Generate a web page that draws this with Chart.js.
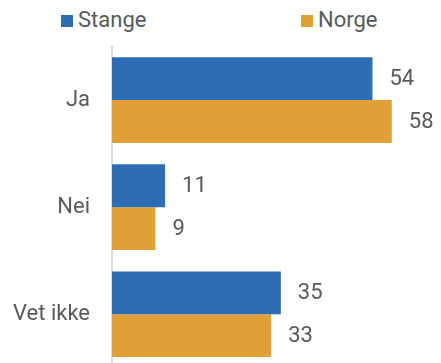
<!DOCTYPE html>
<html>
<head>
<meta charset="utf-8">
<script src="https://cdn.jsdelivr.net/npm/chart.js@4"></script>
<style>
  html, body { margin: 0; padding: 0; background: #fff; overflow: hidden; }
  #wrap { position: relative; width: 441px; height: 363px; overflow: hidden; }
  #c { position: absolute; left: 0; top: 0; }
  .leg { position: absolute; top: 7px; font-family: Roboto, sans-serif; font-size: 22px; color: #595959; line-height: 26px; }
  .leg i { display: inline-block; width: 12px; height: 12px; margin-right: 5px; vertical-align: 0px; }
</style>
</head>
<body>
<div id="wrap">
  <div class="leg" style="left:61px"><i style="background:#2c6db4"></i>Stange</div>
  <div class="leg" style="left:301px"><i style="background:#e09f37"></i>Norge</div>
  <canvas id="c" width="441" height="403"></canvas>
</div>
<script>
var categories = ["Ja", "Nei", "Vet ikke"];
var stange = [54, 11, 35];
var norge = [58, 9, 33];

// value labels to the right of each bar
var barLabels = {
    id: "barLabels",
    afterDatasetsDraw: function(chart) {
        var ctx = chart.ctx;
        ctx.save();
        ctx.font = "22px Roboto, sans-serif";
        ctx.fillStyle = "#595959";
        ctx.textAlign = "left";
        ctx.textBaseline = "middle";
        chart.data.datasets.forEach(function(ds, i) {
            chart.getDatasetMeta(i).data.forEach(function(bar, j) {
                ctx.fillText(ds.data[j], bar.x + 17, bar.y + 1);
            });
        });
        ctx.restore();
    }
};

new Chart(document.getElementById("c"), {
    type: 'bar',
    data: {
        labels: categories,
        datasets: [
            { label: "Stange", data: stange, backgroundColor: "#2c6db4" },
            { label: "Norge", data: norge, backgroundColor: "#e09f37" }
        ]
    },
    options: {
        indexAxis: 'y',
        responsive: false,
        animation: false,
        layout: { padding: { top: 46.5, right: 1, bottom: 0, left: 0 } },
        datasets: { bar: { categoryPercentage: 0.8, barPercentage: 1.0 } },
        plugins: { legend: { display: false }, tooltip: { enabled: false } },
        scales: {
            x: {
                min: 0, max: 68,
                display: false
            },
            y: {
                afterFit: function(s) { s.width = 112; },
                grid: { display: false, drawTicks: false },
                border: { display: true, color: "#dcdcdc", width: 2 },
                ticks: { padding: 22, color: "#595959", font: { family: "Roboto, sans-serif", size: 22 } }
            }
        }
    },
    plugins: [barLabels]
});
</script>
</body>
</html>
